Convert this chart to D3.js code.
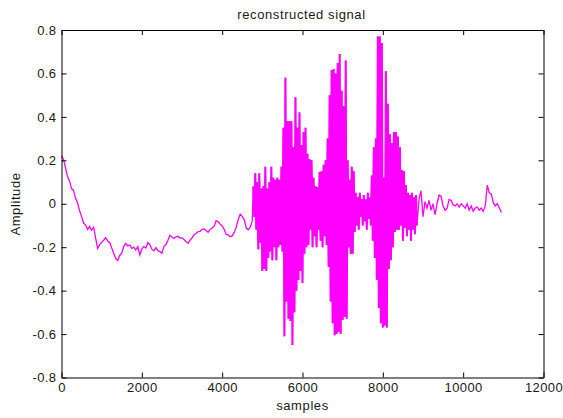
<!DOCTYPE html>
<html>
<head>
<meta charset="utf-8">
<script src="https://cdn.jsdelivr.net/npm/d3@7"></script>
<style>
  body { margin: 0; background: #fff; }
  text { font-family: "Liberation Sans", Arial, sans-serif; fill: #1a1a1a; }
</style>
</head>
<body>
<div id="viz"></div>
<script>
const w = 563, h = 418;

// signal, split in three runs with their own sample step
const quietStart = 0, quietStep = 50;
const quiet = [
  0.22, 0.205, 0.165, 0.125, 0.105, 0.07, 0.062, 0.025, 0.004, -0.032,
  -0.058, -0.09, -0.097, -0.118, -0.105, -0.122, -0.108, -0.158, -0.205, -0.188,
  -0.178, -0.168, -0.156, -0.172, -0.178, -0.204, -0.228, -0.252, -0.262, -0.238,
  -0.228, -0.196, -0.182, -0.194, -0.19, -0.205, -0.2, -0.213, -0.198, -0.236,
  -0.208, -0.197, -0.204, -0.178, -0.188, -0.209, -0.217, -0.202, -0.216, -0.22,
  -0.228, -0.196, -0.188, -0.168, -0.145, -0.153, -0.16, -0.152, -0.15, -0.158,
  -0.157, -0.165, -0.174, -0.182, -0.168, -0.157, -0.143, -0.137, -0.128, -0.127,
  -0.118, -0.116, -0.123, -0.131, -0.118, -0.112, -0.103, -0.078, -0.083, -0.094,
  -0.102, -0.118, -0.141, -0.143, -0.152, -0.148, -0.132, -0.108, -0.072, -0.048,
  -0.058, -0.074, -0.112, -0.12, -0.108, -0.078
];

const burstStart = 4775, burstStep = 25;
const burst = [
  0.08, -0.06, 0.14, -0.12, 0.10, -0.21, 0.14, -0.18, 0.07, -0.31,
  0.08, -0.30, 0.17, -0.31, 0.07, -0.25, 0.10, -0.22, 0.17, -0.26,
  0.12, -0.20, 0.11, -0.26, 0.12, -0.20, 0.11, -0.19, 0.17, -0.22,
  0.35, -0.61, 0.58, -0.45, 0.38, -0.53, 0.38, -0.54, 0.38, -0.65,
  0.26, -0.50, 0.49, -0.40, 0.35, -0.35, 0.42, -0.31, 0.27, -0.365,
  0.33, -0.23, 0.35, -0.20, 0.23, -0.19, 0.205, -0.12, 0.20, -0.20,
  0.12, -0.15, 0.08, -0.20, 0.077, -0.12, 0.146, -0.17, 0.15, -0.20,
  0.18, -0.15, 0.20, -0.19, 0.30, -0.29, 0.50, -0.45, 0.616, -0.55,
  0.62, -0.605, 0.60, -0.60, 0.648, -0.59, 0.69, -0.60, 0.52, -0.535,
  0.45, -0.52, 0.66, -0.53, 0.20, -0.20, 0.11, -0.23, 0.17, -0.23,
  0.15, -0.13, 0.05, -0.10, 0.03, -0.12, 0.05, -0.06, 0.02, -0.10,
  0.04, -0.08, 0.02, -0.12, 0.05, -0.07, 0.03, -0.10, 0.13, -0.17,
  0.26, -0.25, 0.30, -0.35, 0.77, -0.48, 0.77, -0.55, 0.74, -0.57,
  0.12, -0.56, 0.61, -0.57, 0.46, -0.30, 0.32, -0.26, 0.28, -0.20,
  0.33, -0.13, 0.33, -0.12, 0.31, -0.12, 0.26, -0.10, 0.155, -0.17,
  0.15, -0.11, 0.086, -0.15, 0.05, -0.12, 0.04, -0.17, 0.05, -0.12,
  0.03, -0.14, 0.04, -0.10
];

const tailStart = 8900, tailStep = 50;
const tail = [
  0.02, 0.06, -0.06, 0.01, -0.02, 0.015, -0.03, 0.0, -0.05, 0.0,
  0.04, 0.035, -0.01, -0.03, -0.02, 0.02, 0.015, -0.005, -0.01, 0.0,
  -0.015, 0.0, -0.01, -0.02, 0.0, -0.03, -0.01, -0.035, -0.02, -0.015,
  -0.03, -0.02, -0.035, -0.01, 0.086, 0.05, 0.045, 0.005, -0.01, 0.0,
  -0.02, -0.04
];

const xTicks = [0, 2000, 4000, 6000, 8000, 10000, 12000];
const xTickLabels = ["0", "2000", "4000", "6000", "8000", "10000", "12000"];
const yTicks = [-0.8, -0.6, -0.4, -0.2, 0, 0.2, 0.4, 0.6, 0.8];
const yTickLabels = ["-0.8", "-0.6", "-0.4", "-0.2", "0", "0.2", "0.4", "0.6", "0.8"];

const toPoints = function (vals, start, step) {
  return vals.map((v, i) => ({ s: start + i * step, v: v }));
};
const burstPoints = toPoints(burst, burstStart, burstStep);
const points = [].concat(
  toPoints(quiet, quietStart, quietStep),
  burstPoints,
  toPoints(tail, tailStart, tailStep)
);

const svg = d3.select("#viz")
  .append("svg")
  .attr("width", w)
  .attr("height", h);

const xScale = d3.scaleLinear().domain([0, 12000]).range([61.5, 543.5]);
const yScale = d3.scaleLinear().domain([-0.8, 0.8]).range([377.5, 30]);

const line = d3.line()
  .x(d => xScale(d.s))
  .y(d => yScale(d.v));

svg.append("path")
  .datum(points)
  .attr("d", line)
  .attr("fill", "none")
  .attr("stroke", "#ff00ff")
  .attr("stroke-width", 1.3);

// the dense part is solid in the original, so thicken it
svg.append("path")
  .datum(burstPoints)
  .attr("d", line)
  .attr("fill", "none")
  .attr("stroke", "#ff00ff")
  .attr("stroke-width", 2);

const styleAxis = function (g) {
  g.select(".domain").attr("stroke", "#000");
  g.selectAll(".tick line").attr("stroke", "#000");
  g.selectAll(".tick text")
    .attr("font-size", 13)
    .attr("letter-spacing", 0.4)
    .attr("fill", "#1a1a1a")
    .attr("font-family", "Liberation Sans, Arial, sans-serif");
};

svg.append("g")
  .attr("transform", "translate(0,377.5)")
  .call(d3.axisBottom(xScale).tickValues(xTicks)
    .tickFormat((d, i) => xTickLabels[i]).tickSizeInner(-5).tickSizeOuter(0).tickPadding(5))
  .call(styleAxis);

svg.append("g")
  .attr("transform", "translate(0,30)")
  .call(d3.axisTop(xScale).tickValues(xTicks)
    .tickFormat("").tickSizeInner(-5).tickSizeOuter(0))
  .call(styleAxis);

svg.append("g")
  .attr("transform", "translate(61.5,0)")
  .call(d3.axisLeft(yScale).tickValues(yTicks)
    .tickFormat((d, i) => yTickLabels[i]).tickSizeInner(-5).tickSizeOuter(0).tickPadding(5))
  .call(styleAxis);

svg.append("g")
  .attr("transform", "translate(543.5,0)")
  .call(d3.axisRight(yScale).tickValues(yTicks)
    .tickFormat("").tickSizeInner(-5).tickSizeOuter(0))
  .call(styleAxis);

// labels
svg.append("text")
  .attr("x", 301.5)
  .attr("y", 18.5)
  .attr("text-anchor", "middle")
  .attr("font-size", 13)
  .attr("letter-spacing", 0.6)
  .text("reconstructed signal");

svg.append("text")
  .attr("x", 302.5)
  .attr("y", 410)
  .attr("text-anchor", "middle")
  .attr("font-size", 13)
  .attr("letter-spacing", 0.6)
  .text("samples");

svg.append("text")
  .attr("transform", "translate(20,204) rotate(-90)")
  .attr("text-anchor", "middle")
  .attr("font-size", 13)
  .attr("letter-spacing", 0.6)
  .text("Amplitude");
</script>
</body>
</html>
